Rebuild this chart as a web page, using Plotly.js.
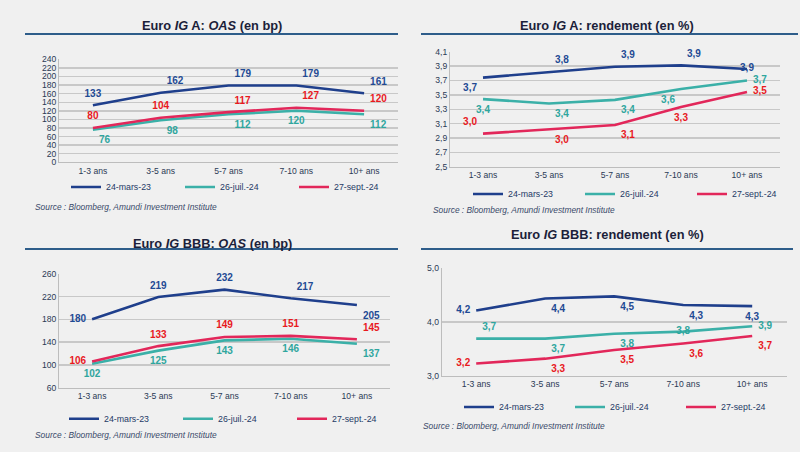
<!DOCTYPE html>
<html>
<head>
<meta charset="utf-8">
<script src="https://cdn.plot.ly/plotly-3.0.1.min.js"></script>
<style>html,body{margin:0;padding:0;background:#f0f0f0;}#chart{width:800px;height:452px;}</style>
</head>
<body>
<div id="chart"></div>
<script>
// ---- data ----
const categories = ['1-3 ans', '3-5 ans', '5-7 ans', '7-10 ans', '10+ ans'];
const seriesNames = ['24-mars-23', '26-juil.-24', '27-sept.-24'];

// Euro IG A: OAS (bp)
const oasA_mar23 = [133, 162, 179, 179, 161];
const oasA_jul24 = [76, 98, 112, 120, 112];
const oasA_sep24 = [80, 104, 117, 127, 120];

// Euro IG A: rendement (%)
const yldA_mar23 = [3.74, 3.82, 3.89, 3.91, 3.86];
const yldA_jul24 = [3.44, 3.38, 3.43, 3.58, 3.70];
const yldA_sep24 = [2.96, 3.02, 3.08, 3.33, 3.54];

// Euro IG BBB: OAS (bp)
const oasB_mar23 = [180, 219, 232, 217, 205];
const oasB_jul24 = [102, 125, 143, 146, 137];
const oasB_sep24 = [106, 133, 149, 151, 145];

// Euro IG BBB: rendement (%)
const yldB_mar23 = [4.21, 4.43, 4.47, 4.31, 4.29];
const yldB_jul24 = [3.69, 3.69, 3.78, 3.82, 3.92];
const yldB_sep24 = [3.23, 3.32, 3.48, 3.60, 3.74];

const panelTitles = [
  'Euro <i>IG</i> A: <i>OAS</i> (en bp)',
  'Euro <i>IG</i> A: rendement (en %)',
  'Euro <i>IG</i> BBB: <i>OAS</i> (en bp)',
  'Euro <i>IG</i> BBB: rendement (en %)'
];
const sourceText = '<i>Source : Bloomberg, Amundi Investment Institute</i>';

// ---- styles ----
const lineColors = ['#1f3f8c', '#3bb0a8', '#e2275a'];
const labelColors = ['#1f4a94', '#2fa69e', '#e8191e'];
const FONT = 'Liberation Sans, Arial, sans-serif';
const W = 800, H = 452;
const px = v => v / W, py = v => 1 - v / H;

const panels = [
  {data: [oasA_mar23, oasA_jul24, oasA_sep24], fmt: '%{y:.0f}',
   pos: [['top center','top right','top right','top right','top right'],
         ['bottom right','bottom right','bottom right','bottom center','bottom right'],
         ['top center','top center','top right','top right','top right']]},
  {data: [yldA_mar23, yldA_jul24, yldA_sep24], fmt: '%{y:.1f}',
   pos: [['bottom left','top right','top right','top right','middle center'],
         ['bottom center','bottom right','bottom right','bottom left','middle right'],
         ['top left','bottom right','bottom right','bottom center','middle right']]},
  {data: [oasB_mar23, oasB_jul24, oasB_sep24], fmt: '%{y:.0f}',
   pos: [['middle left','top center','top center','top right','bottom right'],
         ['bottom center','bottom center','bottom center','bottom center','bottom right'],
         ['middle left','top center','top center','top center','top right']]},
  {data: [yldB_mar23, yldB_jul24, yldB_sep24], fmt: '%{y:.1f}',
   pos: [['middle left','bottom right','bottom right','bottom right','bottom center'],
         ['top right','bottom right','bottom right','middle center','middle right'],
         ['middle left','bottom right','bottom right','bottom right','bottom right']]}
];

const traces = [];
panels.forEach((p, i) => {
  const ax = i === 0 ? '' : String(i + 1);
  p.data.forEach((vals, s) => {
    traces.push({
      type: 'scatter', mode: 'lines+markers+text',
      x: categories, y: vals,
      xaxis: 'x' + ax, yaxis: 'y' + ax,
      name: seriesNames[s],
      legend: 'legend' + ax,
      line: {color: lineColors[s], width: 2.6},
      marker: {size: 8, color: 'rgba(0,0,0,0)', line: {width: 0}},
      texttemplate: p.fmt,
      textposition: p.pos[s],
      textfont: {family: FONT, size: 10, color: labelColors[s], weight: 'bold'},
      cliponaxis: false,
      hoverinfo: 'skip'
    });
  });
});

const gridc = '#c8c8c8';
function xa(d0, d1, anchor) {
  return {domain: [px(d0), px(d1)], anchor: anchor, type: 'category', range: [-0.5, 4.5],
    showgrid: false, showline: true, linecolor: '#bdbdbd', linewidth: 1, ticks: '',
    tickfont: {family: FONT, size: 8.6, color: '#2b3a55'}, fixedrange: true, zeroline: false};
}
function ya(top, bot, anchor, range, dtick, fmt) {
  return {domain: [py(bot), py(top)], anchor: anchor, range: range, dtick: dtick, tick0: range[0],
    tickformat: fmt, showgrid: true, gridcolor: gridc, gridwidth: 1.4, showline: true,
    linecolor: '#bdbdbd', linewidth: 1, ticks: '', zeroline: false,
    tickfont: {family: FONT, size: 8.6, color: '#2b3a55'}, fixedrange: true};
}

function leg(x0, yc, ew) {
  return {x: px(x0), y: py(yc), xanchor: 'left', yanchor: 'middle', orientation: 'h',
    bgcolor: 'rgba(0,0,0,0)', font: {family: FONT, size: 8.8, color: '#1f3a66'},
    entrywidth: ew, entrywidthmode: 'pixels', itemwidth: 30, tracegroupgap: 0,
    itemclick: false, itemdoubleclick: false};
}

const titles = [[212, 26], [607, 26], [212, 243], [607, 234]];
const sources = [[33, 207], [431, 210], [33, 435], [421, 426]];
const underlines = [[25, 398, 34], [421, 798, 34], [25, 398, 249], [421, 793, 249]];

const annotations = [];
titles.forEach((t, i) => annotations.push({xref: 'paper', yref: 'paper', x: px(t[0]), y: py(t[1]),
  xanchor: 'center', yanchor: 'middle', showarrow: false, text: '<b>' + panelTitles[i] + '</b>',
  font: {family: FONT, size: 12.8, color: '#1c1f3a'}}));
sources.forEach(s => annotations.push({xref: 'paper', yref: 'paper', x: px(s[0]), y: py(s[1]),
  xanchor: 'left', yanchor: 'middle', showarrow: false, text: sourceText,
  font: {family: FONT, size: 8.4, color: '#3a4a6a'}}));

const shapes = underlines.map(u => ({type: 'line', xref: 'paper', yref: 'paper',
  x0: px(u[0]), x1: px(u[1]), y0: py(u[2]), y1: py(u[2]), line: {color: '#2e5d8a', width: 2}}));

const layout = {
  width: W, height: H, margin: {l: 0, r: 0, t: 0, b: 0, autoexpand: false},
  paper_bgcolor: '#f0f0f0', plot_bgcolor: '#f0f0f0',
  separators: ', ', showlegend: true,
  font: {family: FONT},
  xaxis: xa(59, 398, 'y'),
  yaxis: ya(59.3, 162.3, 'x', [0, 240], 20, 'd'),
  xaxis2: xa(450, 780, 'y2'),
  yaxis2: ya(51.7, 166.7, 'x2', [2.5, 4.1], 0.2, '.1f'),
  xaxis3: xa(59, 390, 'y3'),
  yaxis3: ya(273.7, 387.7, 'x3', [60, 260], 40, 'd'),
  xaxis4: xa(441.7, 786.7, 'y4'),
  yaxis4: ya(267.7, 376, 'x4', [3, 5], 1, '.1f'),
  legend: leg(66, 187, 69),
  legend2: leg(468, 194, 67),
  legend3: leg(64, 418.7, 69),
  legend4: leg(459, 407, 66),
  annotations: annotations, shapes: shapes
};

Plotly.newPlot('chart', traces, layout, {staticPlot: true, displayModeBar: false});
</script>
</body>
</html>
